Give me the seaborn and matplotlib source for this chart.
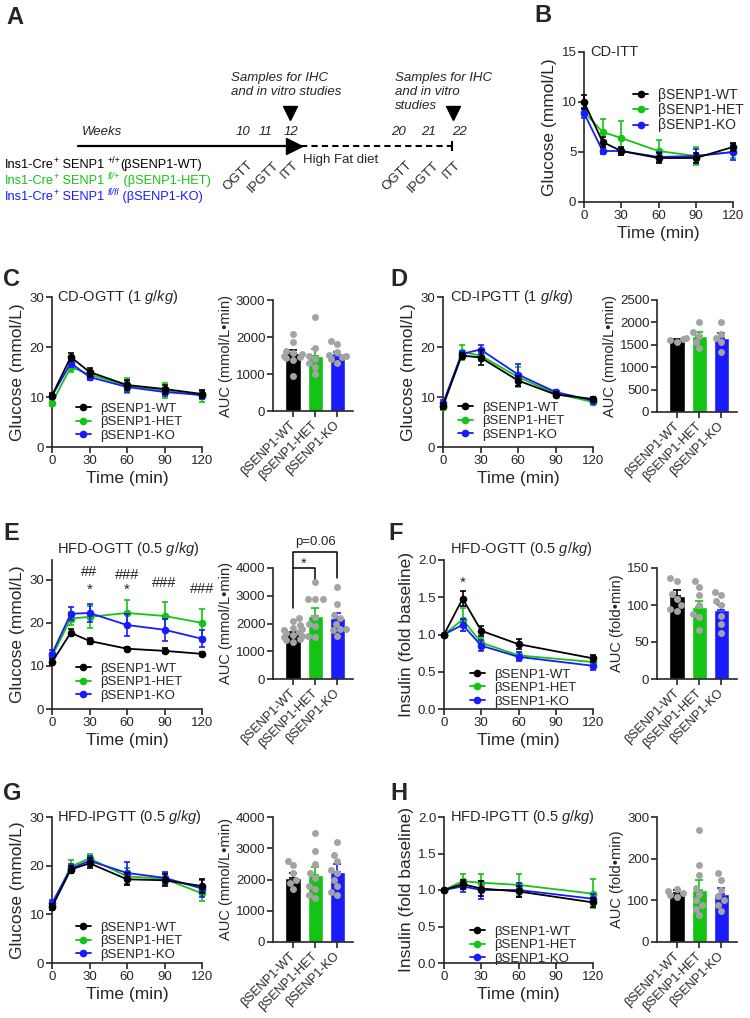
import numpy as np
import pandas as pd
import matplotlib
matplotlib.use("Agg")
import matplotlib.pyplot as plt
import seaborn as sns
from matplotlib.lines import Line2D

sns.set_style("ticks")
plt.rcParams["font.family"] = ["Liberation Sans", "DejaVu Sans"]
plt.rcParams["mathtext.fontset"] = "custom"
plt.rcParams["mathtext.rm"] = "Liberation Sans"
plt.rcParams["mathtext.it"] = "Liberation Sans:italic"
plt.rcParams["mathtext.bf"] = "Liberation Sans:bold"

W, H = 750, 1018

GROUPS = ["βSENP1-WT", "βSENP1-HET", "βSENP1-KO"]
COLORS = ["#000000", "#14c414", "#1a1aff"]
T6 = [0, 15, 30, 60, 90, 120]
T5 = [0, 15, 30, 60, 120]

# B: CD-ITT glucose (WT, HET, KO)
itt_mean = [[10.0, 6.0, 5.1, 4.4, 4.4, 5.5], [9.0, 7.0, 6.4, 5.1, 4.6, 5.0], [8.9, 5.1, 5.1, 4.5, 4.6, 5.0]]
itt_err = [[0.7, 0.5, 0.4, 0.5, 0.5, 0.4], [0.4, 1.3, 1.7, 1.1, 0.9, 0.6], [0.5, 0.3, 0.3, 0.5, 0.7, 0.8]]

# C: CD-OGTT
cd_ogtt_mean = [[10.3, 18.0, 15.0, 12.4, 11.6, 10.6], [8.8, 16.0, 14.5, 12.3, 11.3, 10.3], [10.2, 16.8, 14.0, 12.0, 11.0, 10.4]]
cd_ogtt_err = [[0.5, 0.8, 0.9, 1.0, 0.9, 0.8], [0.5, 1.0, 1.0, 1.5, 1.5, 1.2], [0.5, 0.8, 0.6, 1.0, 0.8, 0.8]]
cd_ogtt_auc = [1560, 1500, 1520]
cd_ogtt_auc_sem = [80, 170, 70]
cd_ogtt_pts = [[2080, 1860, 1620, 1570, 1540, 1500, 1460, 1420, 1380, 950],
               [2550, 1700, 1500, 1400, 1300, 1200, 1000],
               [1900, 1800, 1600, 1520, 1480, 1450, 1400, 1300]]

# D: CD-IPGTT
cd_ipgtt_mean = [[8.3, 18.3, 17.9, 13.3, 10.5, 9.6], [8.0, 19.0, 18.3, 14.0, 10.7, 9.0], [8.8, 18.6, 19.5, 14.5, 11.0, 9.3]]
cd_ipgtt_err = [[0.6, 0.6, 1.5, 1.0, 0.5, 0.4], [0.6, 1.5, 1.0, 2.0, 0.6, 0.6], [0.6, 0.6, 0.9, 2.2, 0.5, 0.5]]
cd_ipgtt_auc = [1610, 1690, 1660]
cd_ipgtt_auc_sem = [25, 100, 110]
cd_ipgtt_pts = [[1650, 1640, 1600, 1560],
                [2000, 1780, 1700, 1560, 1420],
                [2000, 1750, 1650, 1560, 1330]]

# E: HFD-OGTT glucose
hfd_ogtt_mean = [[10.9, 17.7, 15.8, 14.0, 13.5, 12.8], [12.2, 21.0, 21.4, 22.3, 21.6, 20.0], [12.8, 22.1, 22.3, 19.5, 18.4, 16.3]]
hfd_ogtt_err = [[0.6, 0.8, 0.8, 0.5, 0.6, 0.5], [0.8, 1.5, 2.5, 3.0, 3.3, 3.3], [0.8, 1.5, 2.1, 2.5, 2.5, 2.0]]
hfd_ogtt_auc = [1650, 2280, 2200]
hfd_ogtt_auc_sem = [60, 270, 180]
hfd_ogtt_pts = [[2200, 2100, 1950, 1850, 1800, 1750, 1700, 1650, 1600, 1550, 1500, 1450, 1400, 1350],
                [3500, 2900, 2900, 2900, 2250, 2000, 1900, 1550, 1500],
                [3300, 2700, 2300, 2200, 2000, 1800, 1750, 1550, 1800]]
hfd_ogtt_marks = [(30, 31.9, "##"), (30, 27.7, "*"), (60, 31.2, "###"), (60, 27.7, "*"),
                  (90, 29.3, "###"), (120, 27.9, "###")]

# F: HFD-OGTT insulin
ins_ogtt_mean = [[1.0, 1.48, 1.05, 0.87, 0.68], [1.0, 1.20, 0.89, 0.72, 0.63], [1.0, 1.13, 0.85, 0.70, 0.58]]
ins_ogtt_err = [[0.0, 0.1, 0.07, 0.07, 0.05], [0.0, 0.15, 0.06, 0.05, 0.04], [0.0, 0.08, 0.07, 0.06, 0.06]]
ins_ogtt_auc = [112, 97, 93]
ins_ogtt_auc_sem = [8, 9, 7]
ins_ogtt_pts = [[136, 132, 115, 108, 100, 95, 92],
                [133, 125, 113, 100, 88, 84, 66],
                [117, 113, 106, 100, 85, 74, 62]]

# G: HFD-IPGTT glucose
hfd_ipgtt_mean = [[11.5, 19.2, 20.5, 17.2, 17.0, 15.8], [11.8, 19.8, 21.5, 17.8, 17.3, 14.3], [12.3, 19.4, 21.0, 18.5, 17.5, 15.3]]
hfd_ipgtt_err = [[0.6, 0.7, 1.0, 1.2, 1.2, 1.4], [0.7, 1.3, 1.0, 1.8, 1.2, 1.5], [0.7, 1.0, 1.0, 2.3, 1.3, 1.7]]
hfd_ipgtt_auc = [2050, 2150, 2250]
hfd_ipgtt_auc_sem = [150, 250, 250]
hfd_ipgtt_pts = [[2600, 2450, 2200, 2000, 1900, 1700],
                 [3500, 2900, 2500, 2200, 2050, 1800, 1700, 1500, 1400],
                 [3200, 2800, 2600, 2300, 2200, 2000, 1800, 1600, 1500]]

# H: HFD-IPGTT insulin
ins_ipgtt_mean = [[1.0, 1.08, 1.02, 0.98, 0.83], [1.0, 1.12, 1.10, 1.07, 0.95], [1.0, 1.05, 1.0, 1.0, 0.88]]
ins_ipgtt_err = [[0.0, 0.06, 0.1, 0.08, 0.06], [0.0, 0.1, 0.12, 0.15, 0.2], [0.0, 0.08, 0.12, 0.1, 0.06]]
ins_ipgtt_auc = [118, 125, 115]
ins_ipgtt_auc_sem = [6, 25, 15]
ins_ipgtt_pts = [[128, 122, 118, 112, 108],
                 [270, 185, 160, 130, 115, 100, 90, 80, 65],
                 [165, 150, 125, 110, 100, 90, 75]]

# genotype lines of panel A: (text, is_superscript, italic)
geno_parts = [
    [("Ins1-Cre", 0, 0), ("+", 1, 0), (" SENP1 ", 0, 0), ("+/+", 1, 0), ("(βSENP1-WT)", 0, 0)],
    [("Ins1-Cre", 0, 0), ("+", 1, 0), (" SENP1 ", 0, 0), ("fl/+", 1, 1), (" (βSENP1-HET)", 0, 0)],
    [("Ins1-Cre", 0, 0), ("+", 1, 0), (" SENP1 ", 0, 0), ("fl/fl", 1, 1), (" (βSENP1-KO)", 0, 0)],
]

fig = plt.figure(figsize=(W / 100, H / 100), dpi=100)


def add_ax(l, t, r, b):
    return fig.add_axes([l / W, 1 - b / H, (r - l) / W, (b - t) / H])


def fpos(x, y):
    return x / W, 1 - y / H


def style(ax):
    sns.despine(ax=ax)
    for s in ("left", "bottom"):
        ax.spines[s].set_linewidth(1.2)
    ax.tick_params(width=1.2, length=4, labelsize=9.5, pad=1.5)


def line_panel(ax, times, means, errs, ylim, yticks, ylabel, title, title_xy, leg_xy, leg_fs=9.5):
    rows = []
    for g, m in zip(GROUPS, means):
        for t, v in zip(times, m):
            rows.append((g, t, v))
    df = pd.DataFrame(rows, columns=["group", "time", "value"])
    for i in [1, 2, 0]:
        ax.errorbar(times, means[i], yerr=errs[i], fmt="none", ecolor=COLORS[i],
                    elinewidth=1.2, capsize=2.5, capthick=1.2, clip_on=False, zorder=3)
        sns.lineplot(data=df[df.group == GROUPS[i]], x="time", y="value", color=COLORS[i],
                     marker="o", markersize=5.5, markeredgewidth=0, lw=1.3, ax=ax,
                     legend=False, clip_on=False, zorder=3, errorbar=None)
    ax.set_xlim(0, 120)
    ax.set_xticks([0, 30, 60, 90, 120])
    ax.set_ylim(*ylim)
    ax.set_yticks(yticks)
    ax.set_xlabel("Time (min)", fontsize=12.5, labelpad=3)
    ax.set_ylabel(ylabel, fontsize=12.5, labelpad=3)
    style(ax)
    fig.text(*fpos(*title_xy), title, fontsize=10.5, va="center")
    handles = [Line2D([], [], color=c, marker="o", ms=5.5, mew=0, lw=1.3) for c in COLORS]
    ax.legend(handles, GROUPS, loc="center left", bbox_to_anchor=fpos(*leg_xy),
              bbox_transform=fig.transFigure, frameon=False, fontsize=leg_fs,
              handlelength=1.1, handletextpad=0.7, labelspacing=0.1, borderpad=0, borderaxespad=0)


def bar_panel(ax, means, sems, points, ylim, yticks, ylabel):
    sns.barplot(x=GROUPS, y=means, hue=GROUPS, palette=COLORS, width=0.68, saturation=1,
                legend=False, ax=ax, zorder=1)
    for i in range(3):
        ax.errorbar(i, means[i], yerr=[[0], [sems[i]]], fmt="none", ecolor=COLORS[i],
                    elinewidth=1.2, capsize=3, capthick=1.2, zorder=2)
    pts = pd.DataFrame({"group": np.repeat(GROUPS, [len(p) for p in points]),
                        "value": np.concatenate(points)})
    sns.swarmplot(data=pts, x="group", y="value", order=GROUPS, color="#a3a3a3", size=5.0,
                  ax=ax, zorder=3)
    ax.set_xlim(-0.9, 2.7)
    ax.set_ylim(*ylim)
    ax.set_yticks(yticks)
    ax.set_xticks([0, 1, 2])
    ax.set_xticklabels(GROUPS, rotation=45, ha="right", va="center", rotation_mode="anchor")
    ax.set_xlabel("")
    ax.set_ylabel(ylabel, fontsize=10.5, labelpad=2)
    style(ax)
    ax.tick_params(axis="x", pad=5, labelsize=9)


# ---- Panel A: study timeline ----
axA = fig.add_axes([0, 0, 1, 1], zorder=-1)
axA.set_xlim(0, W)
axA.set_ylim(H, 0)
axA.axis("off")
axA.plot([78, 288], [146, 146], color="black", lw=1.6)
axA.plot([294], [146], marker=">", ms=11, color="black")
axA.plot([301, 452], [146, 146], color="black", lw=1.5, ls=(0, (3, 2)))
axA.plot([452], [146], marker="|", ms=7, mew=1.5, color="black")
axA.plot([290, 453], [113, 113], ls="none", marker="v", ms=10, color="black")
axA.text(82, 132, "Weeks", fontsize=9.5, style="italic", va="center")
for x, s in [(243, "10"), (266, "11"), (291, "12"), (398, "20"), (428, "21"), (459, "22")]:
    axA.text(x, 132, s, fontsize=9.5, style="italic", va="center", ha="center")
axA.text(231, 85, "Samples for IHC\nand in vitro studies", fontsize=9.5, style="italic",
         va="center", linespacing=1.2)
axA.text(395, 92, "Samples for IHC\nand in vitro\nstudies", fontsize=9.5, style="italic",
         va="center", linespacing=1.2)
for x, s in [(251, "OGTT"), (277, "IPGTT"), (297, "ITT"), (410, "OGTT"), (437, "IPGTT"), (459, "ITT")]:
    axA.text(x, 163, s, fontsize=9.5, rotation=45, ha="right", va="center", rotation_mode="anchor")
axA.text(303, 160, "High Fat diet", fontsize=9.5, va="center")

for y, parts, c in zip([171, 187, 203], geno_parts, COLORS):
    base = axA.text(5, y, parts[0][0], fontsize=9.2, color=c, va="bottom")
    prev = base
    for s, sup, it in parts[1:]:
        fstyle = "italic" if it else "normal"
        if sup:
            prev = axA.annotate(s, xy=(1, 0.5), xycoords=(prev, base), fontsize=6.5, color=c,
                                va="bottom", style=fstyle)
        else:
            prev = axA.annotate(s, xy=(1, 0), xycoords=(prev, base), fontsize=9.2, color=c,
                                va="bottom", style=fstyle)
            base = prev

# ---- panel letters ----
for s, x, y in [("A", 6, 18), ("B", 534, 15), ("C", 3, 279), ("D", 390, 279),
                ("E", 3, 533), ("F", 388, 533), ("G", 3, 793), ("H", 390, 793)]:
    fig.text(*fpos(x, y), s, fontsize=17, fontweight="bold", va="center")

# ---- B ----
axB = add_ax(584, 52, 733, 202)
line_panel(axB, T6, itt_mean, itt_err, (0, 15), [0, 5, 10, 15], "Glucose (mmol/L)",
           "CD-ITT", (590, 52), (633, 110), leg_fs=10)

# ---- C ----
axC = add_ax(52, 297, 202, 447)
line_panel(axC, T6, cd_ogtt_mean, cd_ogtt_err, (0, 30), [0, 10, 20, 30], "Glucose (mmol/L)",
           r"CD-OGTT ($\mathit{1\ g/kg}$)", (57, 297), (76, 422))
axCb = add_ax(273, 300, 353, 411)
bar_panel(axCb, cd_ogtt_auc, cd_ogtt_auc_sem, cd_ogtt_pts, (0, 3000), [0, 1000, 2000, 3000],
          "AUC (mmol/L•min)")

# ---- D ----
axD = add_ax(443, 297, 593, 447)
line_panel(axD, T6, cd_ipgtt_mean, cd_ipgtt_err, (0, 30), [0, 10, 20, 30], "Glucose (mmol/L)",
           r"CD-IPGTT ($\mathit{1\ g/kg}$)", (450, 297), (458, 421))
axDb = add_ax(657, 300, 737, 412)
bar_panel(axDb, cd_ipgtt_auc, cd_ipgtt_auc_sem, cd_ipgtt_pts, (0, 2500),
          [0, 500, 1000, 1500, 2000, 2500], "AUC (mmol/L•min)")

# ---- E ----
axE = add_ax(52, 560, 202, 709)
line_panel(axE, T6, hfd_ogtt_mean, hfd_ogtt_err, (0, 34.6), [0, 10, 20, 30], "Glucose (mmol/L)",
           r"HFD-OGTT ($\mathit{0.5\ g/kg}$)", (57, 549), (76, 682))
for x, y, s in hfd_ogtt_marks:
    axE.text(x, y, s, ha="center", va="center", fontsize=10.5 if s != "*" else 11)
axEb = add_ax(273, 568, 353, 679)
bar_panel(axEb, hfd_ogtt_auc, hfd_ogtt_auc_sem, hfd_ogtt_pts, (0, 4000),
          [0, 1000, 2000, 3000, 4000], "AUC (mmol/L•min)")
axEb.plot([0, 0, 2, 2], [2560, 4580, 4580, 3650], color="black", lw=1.1, clip_on=False)
axEb.plot([0, 1, 1], [4000, 4000, 3570], color="black", lw=1.1, clip_on=False)
axEb.text(0.5, 4150, "*", ha="center", va="center", fontsize=11)
axEb.text(1, 4930, "p=0.06", ha="center", va="center", fontsize=9.5)

# ---- F ----
axF = add_ax(444, 560, 593, 709)
line_panel(axF, T5, ins_ogtt_mean, ins_ogtt_err, (0, 2.0), [0.0, 0.5, 1.0, 1.5, 2.0],
           "Insulin (fold baseline)", r"HFD-OGTT ($\mathit{0.5\ g/kg}$)", (450, 549), (470, 688))
axF.yaxis.set_major_formatter(matplotlib.ticker.FormatStrFormatter("%.1f"))
axF.text(15, 1.70, "*", ha="center", va="center", fontsize=11)
axFb = add_ax(657, 568, 737, 679)
bar_panel(axFb, ins_ogtt_auc, ins_ogtt_auc_sem, ins_ogtt_pts, (0, 150), [0, 50, 100, 150],
          "AUC (fold•min)")

# ---- G ----
axG = add_ax(52, 817, 202, 963)
line_panel(axG, T6, hfd_ipgtt_mean, hfd_ipgtt_err, (0, 30), [0, 10, 20, 30], "Glucose (mmol/L)",
           r"HFD-IPGTT ($\mathit{0.5\ g/kg}$)", (57, 817), (76, 941))
axGb = add_ax(273, 817, 353, 942)
bar_panel(axGb, hfd_ipgtt_auc, hfd_ipgtt_auc_sem, hfd_ipgtt_pts, (0, 4000),
          [0, 1000, 2000, 3000, 4000], "AUC (mmol/L•min)")

# ---- H ----
axH = add_ax(444, 817, 593, 963)
line_panel(axH, T5, ins_ipgtt_mean, ins_ipgtt_err, (0, 2.0), [0.0, 0.5, 1.0, 1.5, 2.0],
           "Insulin (fold baseline)", r"HFD-IPGTT ($\mathit{0.5\ g/kg}$)", (450, 817), (470, 945))
axH.yaxis.set_major_formatter(matplotlib.ticker.FormatStrFormatter("%.1f"))
axHb = add_ax(657, 817, 737, 942)
bar_panel(axHb, ins_ipgtt_auc, ins_ipgtt_auc_sem, ins_ipgtt_pts, (0, 300), [0, 100, 200, 300],
          "AUC (fold•min)")

fig.savefig("out.png", dpi=100)
